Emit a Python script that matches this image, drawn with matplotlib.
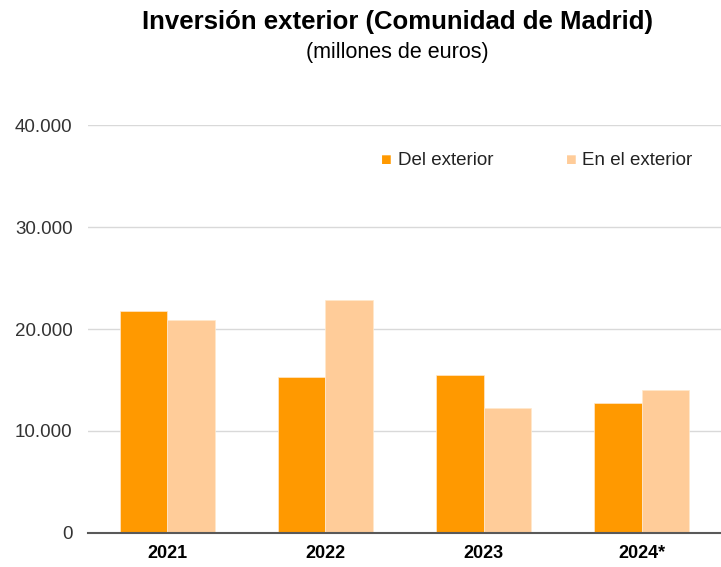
import numpy as np
from matplotlib import pyplot as plt
from matplotlib.ticker import FuncFormatter

plt.rcParams['font.family'] = ['Liberation Sans', 'DejaVu Sans']

years = ['2021', '2022', '2023', '2024*']
del_exterior = [21760, 15300, 15460, 12720]
en_exterior = [20880, 22880, 12280, 14040]
series_names = ['Del exterior', 'En el exterior']

c_del = '#FF9900'
c_en = '#FFCC99'

fig = plt.figure(figsize=(7.21, 5.67), dpi=100)
ax = fig.add_axes([0.122, 0.06, 0.878, 0.7195])

x = np.arange(len(years))
w = 0.3
ax.bar(x - w / 2, del_exterior, w, color=c_del, edgecolor='#FFE9CC', linewidth=0.5, zorder=3)
ax.bar(x + w / 2, en_exterior, w, color=c_en, edgecolor='#FFE9CC', linewidth=0.5, zorder=3)

ax.set_xlim(-0.5, 3.5)
ax.set_ylim(0, 40000)
ax.set_yticks([0, 10000, 20000, 30000, 40000])
ax.yaxis.set_major_formatter(FuncFormatter(lambda v, p: f'{int(v):,}'.replace(',', '.')))
ax.grid(axis='y', color='#D9D9D9', linewidth=1, zorder=0)
for s in ['left', 'right', 'top']:
    ax.spines[s].set_visible(False)
ax.spines['bottom'].set_color('#595959')
ax.spines['bottom'].set_linewidth(1.5)
ax.spines['bottom'].set_zorder(4)
ax.tick_params(axis='y', length=0, labelsize=13.5, labelcolor='#333333', pad=11)
ax.tick_params(axis='x', length=0, labelsize=13, pad=9)
ax.set_xticks(x)
ax.set_xticklabels(years, fontweight='bold')

# legend drawn by hand as square markers + text
fig.text(0.528, 0.717, '\u25A0', color=c_del, fontsize=13, va='center')
fig.text(0.552, 0.717, series_names[0], fontsize=13.5, va='center', color='#222222')
fig.text(0.785, 0.717, '\u25A0', color=c_en, fontsize=13, va='center')
fig.text(0.807, 0.717, series_names[1], fontsize=13.5, va='center', color='#222222')

fig.text(0.551, 0.961, 'Inversión exterior (Comunidad de Madrid)', ha='center', va='center',
         fontsize=18.5, fontweight='bold')
fig.text(0.551, 0.908, '(millones de euros)', ha='center', va='center', fontsize=15.5)

plt.savefig('out.png', dpi=100)
